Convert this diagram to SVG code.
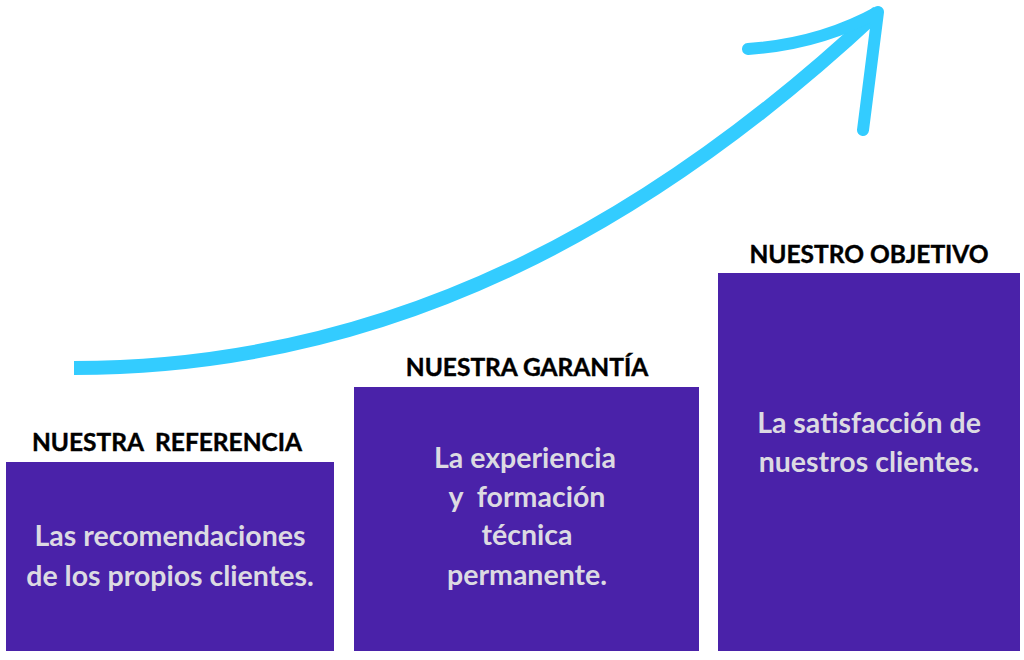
<svg xmlns="http://www.w3.org/2000/svg" width="1024" height="660" viewBox="0 0 1024 660">
<style>
.bar{fill:#4a22a9}
.head{font-family:Lato,"Open Sans","Liberation Sans",sans-serif;font-weight:700;font-size:24.5px;fill:#000;stroke:#000;stroke-width:0.4;text-anchor:middle;white-space:pre}
.body{font-family:Lato,"Open Sans","Liberation Sans",sans-serif;font-weight:700;font-size:28.5px;fill:#dcdae2;text-anchor:middle;white-space:pre}
.arrow{fill:none;stroke:#33ccff}
</style>
<rect width="1024" height="660" fill="#fff"/>
<g id="connectors">
<path class="arrow" d="M74,368 C400,368 660,216 878,12" stroke-width="14" stroke-linecap="butt"/>
<path class="arrow" d="M748,49 Q820,44 878,12 L863,130" stroke-width="12" stroke-linecap="round" stroke-linejoin="round"/>
</g>
<g id="node-referencia">
<rect class="bar" x="6" y="462" width="328" height="189"/>
<text class="head" x="167" y="451">NUESTRA  REFERENCIA</text>
<text class="body" x="170" y="546">Las recomendaciones</text>
<text class="body" x="170" y="585.5">de los propios clientes.</text>
</g>
<g id="node-garantia">
<rect class="bar" x="354" y="387" width="345" height="264"/>
<text class="head" x="527" y="375.5">NUESTRA GARANTÍA</text>
<text class="body" x="525" y="468">La experiencia</text>
<text class="body" x="527" y="506.5">y  formación</text>
<text class="body" x="527" y="545">técnica</text>
<text class="body" x="527" y="585">permanente.</text>
</g>
<g id="node-objetivo">
<rect class="bar" x="718" y="273" width="302" height="378"/>
<text class="head" x="869" y="263">NUESTRO OBJETIVO</text>
<text class="body" x="869" y="433">La satisfacción de</text>
<text class="body" x="869" y="471.5">nuestros clientes.</text>
</g>
</svg>
